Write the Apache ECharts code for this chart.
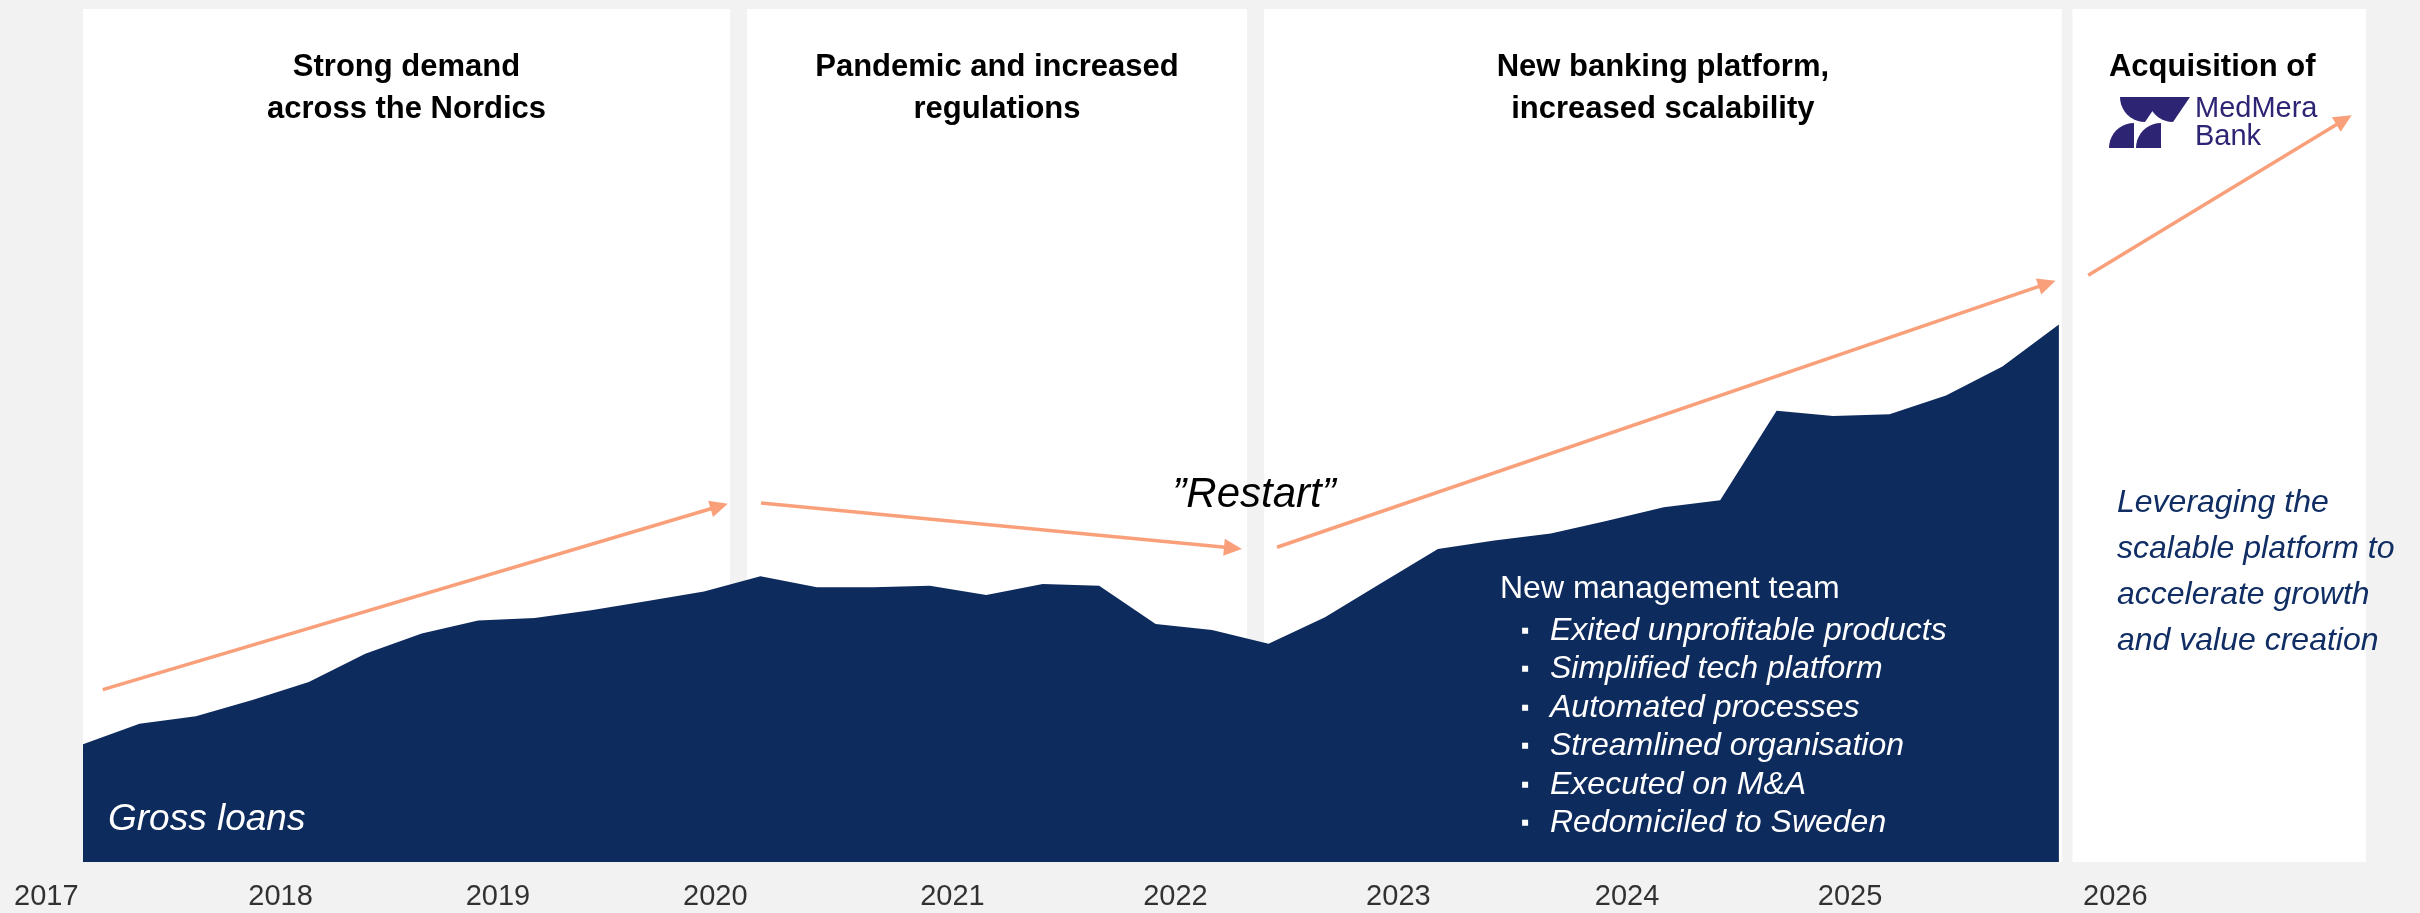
<!DOCTYPE html>
<html>
<head>
<meta charset="utf-8">
<title>Gross loans development</title>
<script src="https://cdn.jsdelivr.net/npm/echarts@6/dist/echarts.min.js"></script>
<style>
  html, body { margin: 0; padding: 0; background: #f2f2f2; }
  #chart { width: 2420px; height: 913px; }
</style>
</head>
<body>
<div id="chart"></div>
<script>
// Quarterly gross loans (indexed), one value per quarter
const quarters = [
  '2017Q1','2017Q2','2017Q3','2017Q4','2018Q1','2018Q2','2018Q3','2018Q4',
  '2019Q1','2019Q2','2019Q3','2019Q4','2020Q1','2020Q2','2020Q3','2020Q4',
  '2021Q1','2021Q2','2021Q3','2021Q4','2022Q1','2022Q2','2022Q3','2022Q4',
  '2023Q1','2023Q2','2023Q3','2023Q4','2024Q1','2024Q2','2024Q3','2024Q4',
  '2025Q1','2025Q2','2025Q3','2025Q4'
];
const grossLoans = [
  13.8, 16.2, 17.1, 19.0, 21.1, 24.4, 26.8, 28.3,
  28.6, 29.5, 30.6, 31.7, 33.5, 32.2, 32.2, 32.4,
  31.3, 32.6, 32.4, 27.9, 27.2, 25.6, 28.7, 32.7,
  36.7, 37.7, 38.5, 40.0, 41.6, 42.4, 52.9, 52.3,
  52.5, 54.7, 58.1, 63.0
];

// Year labels along the bottom, placed on the quarter scale
const yearLabels = ['2017','2018','2019','2020','2021','2022','2023','2024','2025','2026'];
const yearLabelPos = [-0.65, 3.5, 7.35, 11.2, 15.4, 19.35, 23.3, 27.35, 31.3, 36.0];

// Strategic periods shown as white panels
const periodTitles = [
  'Strong demand\nacross the Nordics',
  'Pandemic and increased\nregulations',
  'New banking platform,\nincreased scalability',
  'Acquisition of'
];
const periodSpans = [[0, 11.46], [11.76, 20.62], [20.92, 35.05], [35.24, 40.44]];

// Trend arrows (start, end) on the quarter / index scale
const trendArrows = [
  [[0.35, 20.2], [11.27, 41.7]],
  [[12.01, 42.1], [20.37, 36.8]],
  [[21.15, 36.9], [34.79, 67.8]],
  [[35.52, 68.8], [40.05, 87.0]]
];

const managementPoints = [
  'Exited unprofitable products',
  'Simplified tech platform',
  'Automated processes',
  'Streamlined organisation',
  'Executed on M&A',
  'Redomiciled to Sweden'
];
const outlookLines = [
  'Leveraging the',
  'scalable platform to',
  'accelerate growth',
  'and value creation'
];

const NAVY = '#0e2b5e';
const ORANGE = '#f9a07b';
const PURPLE = '#2e2474';
const FONT = '"Liberation Sans", Arial, Helvetica, sans-serif';
const X_MAX = 40.44;

const loanData = quarters.map((q, i) => ({ name: q, value: [i, grossLoans[i]] }));

// MedMera Bank mark built from arc-cornered quads
function arcPts(cx, cy, r, a0, a1, n) {
  const pts = [];
  for (let k = 0; k <= n; k++) {
    const a = (a0 + (a1 - a0) * k / n) * Math.PI / 180;
    pts.push([cx + r * Math.cos(a), cy + r * Math.sin(a)]);
  }
  return pts;
}
function logoShapes(ox, oy) {
  const shapes = [];
  // upper row: slanted bars with rounded lower-left
  const top = (x0) => {
    const pts = [[x0, oy], [x0 + 27, oy], [x0 + 10, oy + 25]];
    arcPts(x0 + 10, oy, 25, 90, 180, 10).forEach(p => pts.push(p));
    return pts;
  };
  // lower row: rounded upper-left, flat bottom
  const bottom = (x0) => {
    const pts = [[x0 + 25, oy + 27], [x0 + 25, oy + 51], [x0, oy + 51]];
    arcPts(x0 + 25, oy + 51, 25, 180, 270, 10).forEach(p => pts.push(p));
    return pts;
  };
  [top(ox + 26), top(ox + 54), bottom(ox), bottom(ox + 27)].forEach(pts => {
    shapes.push({ type: 'polygon', z: 100, shape: { points: pts }, style: { fill: PURPLE } });
  });
  return shapes;
}

const textEl = (text, x, y, font, fill, align) => ({
  type: 'text', x: x, y: y, z: 100, silent: true,
  style: { text: text, font: font, fill: fill, align: align || 'left', verticalAlign: 'middle' }
});

const graphics = [
  textEl('Gross loans', 108, 820, 'italic 37px ' + FONT, '#ffffff'),
  textEl('\u201dRestart\u201d', 1254, 495, 'italic 42px ' + FONT, '#000000', 'center'),
  textEl('New management team', 1500, 589, '32px ' + FONT, '#ffffff')
];
managementPoints.forEach((t, i) => {
  const y = 631 + i * 38.5;
  graphics.push(textEl('\u25aa', 1521, y, '24px ' + FONT, '#ffffff'));
  graphics.push(textEl(t, 1550, y, 'italic 32px ' + FONT, '#ffffff'));
});
outlookLines.forEach((t, i) => {
  graphics.push(textEl(t, 2117, 503 + i * 46, 'italic 32px ' + FONT, '#102d64'));
});
logoShapes(2109, 97).forEach(s => graphics.push(s));
graphics.push(textEl('MedMera', 2195, 109, '29px ' + FONT, PURPLE));
graphics.push(textEl('Bank', 2195, 137, '29px ' + FONT, PURPLE));

const chart = echarts.init(document.getElementById('chart'));
chart.setOption({
  backgroundColor: '#f2f2f2',
  animation: false,
  grid: { left: 83, right: 54, top: 9, bottom: 51 },
  xAxis: { type: 'value', min: 0, max: X_MAX, show: false },
  yAxis: { type: 'value', min: 0, max: 100, show: false },
  series: [
    {
      type: 'line', data: loanData, z: 0, silent: true,
      symbol: 'none', lineStyle: { opacity: 0 },
      markArea: {
        silent: true,
        itemStyle: { color: '#ffffff' },
        label: {
          show: true, position: 'insideTop', distance: 37,
          color: '#000000', fontFamily: FONT, fontWeight: 'bold',
          fontSize: 31, lineHeight: 42, align: 'center'
        },
        data: periodSpans.map((s, i) => [
          { name: periodTitles[i], xAxis: s[0], label: i === 3 ? { offset: [-7, 0] } : undefined },
          { xAxis: s[1] }
        ])
      }
    },
    {
      name: 'Gross loans', type: 'line', data: loanData, z: 2, silent: true,
      symbol: 'none', lineStyle: { width: 0 },
      areaStyle: { color: NAVY, opacity: 1 }
    },
    {
      type: 'line', data: [], z: 3, silent: true,
      markLine: {
        silent: true, symbol: ['none', 'triangle'], symbolSize: [17, 18],
        lineStyle: { color: ORANGE, width: 3.5, type: 'solid' },
        label: { show: false }, emphasis: { disabled: true },
        data: trendArrows.map(a => [{ coord: a[0] }, { coord: a[1] }])
      }
    },
    {
      type: 'scatter', z: 4, silent: true, clip: false, symbolSize: 0,
      data: yearLabels.map((y, i) => ({ name: y, value: [yearLabelPos[i], 0] })),
      label: {
        show: true, position: 'bottom', distance: 20, formatter: '{b}',
        color: '#000000', fontFamily: FONT, fontSize: 29, lineHeight: 30
      }
    }
  ],
  graphic: graphics
});
</script>
</body>
</html>
